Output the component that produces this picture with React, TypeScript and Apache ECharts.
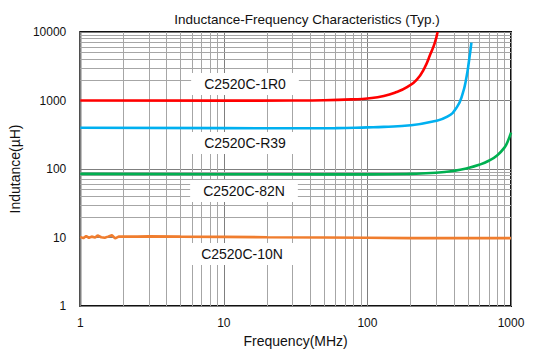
import React, { useEffect, useRef } from "react";
import * as echarts from "echarts";

// Frequency (MHz) / inductance readings per part
const freq1R0 = [1, 10, 30, 50, 80, 100, 130, 160, 190, 220, 250, 275, 295, 308];
const ind1R0 = [1000, 995, 1000, 1010, 1040, 1070, 1160, 1330, 1580, 2000, 3000, 4800, 7000, 10000];

const freqR39 = [1, 10, 30, 60, 100, 130, 200, 280, 360, 420, 460, 490, 510, 530];
const indR39 = [400, 395, 393, 395, 405, 412, 435, 490, 580, 800, 1250, 2200, 3800, 7000];

const freq82N = [1, 10, 50, 100, 200, 300, 400, 500, 600, 700, 800, 900, 950, 1000];
const ind82N = [85, 84, 83.5, 83.5, 85, 88, 94, 103, 115, 132, 158, 205, 255, 340];

const freq10N = [1, 1.05, 1.1, 1.15, 1.2, 1.27, 1.32, 1.4, 1.48, 1.56, 1.66, 1.75, 1.85, 2, 2.5, 3, 5, 10, 20, 50, 100, 200, 500, 1000];
const ind10N = [10.2, 9.8, 10.5, 9.9, 10.3, 10.0, 10.7, 10.1, 9.9, 10.3, 10.8, 9.7, 10.3, 10.3, 10.3, 10.4, 10.3, 10.2, 10.1, 10.0, 9.9, 9.8, 9.8, 9.8];

const seriesNames = ["C2520C-1R0", "C2520C-R39", "C2520C-82N", "C2520C-10N"];
const seriesColors = ["#ff0000", "#00b0f0", "#00b050", "#f07d2e"];

// grid lines
const minorX = [2, 3, 4, 5, 6, 7, 8, 9, 20, 30, 40, 50, 60, 70, 80, 90, 200, 300, 400, 500, 600, 700, 800, 900];
const minorY = [20, 30, 40, 50, 60, 70, 80, 90, 2000, 3000, 4000, 5000, 6000, 7000, 8000, 9000];

const FONT = 'Arial, "Liberation Sans", sans-serif';

function pairs(xs: number[], ys: number[]) {
  return xs.map((x, i) => [x, ys[i]]);
}

export default function App() {
  const ref = useRef<HTMLDivElement>(null);
  useEffect(() => {
    if (!ref.current) return;
    const chart = echarts.init(ref.current, undefined, { renderer: "svg" });
    const datasets = [pairs(freq1R0, ind1R0), pairs(freqR39, indR39), pairs(freq82N, ind82N), pairs(freq10N, ind10N)];
    const labelPos = [
      [245, 84],
      [245, 143],
      [244, 191],
      [242, 254],
    ];
    chart.setOption({
      animation: false,
      grid: {
        left: 74,
        right: 29,
        top: 32,
        bottom: 49,
        show: true,
        borderColor: "#111",
        borderWidth: 2,
        backgroundColor: "transparent",
      },
      xAxis: {
        type: "log",
        logBase: 10,
        min: 1,
        max: 1000,
        name: "Frequency(MHz)",
        nameLocation: "middle",
        nameGap: 26,
        nameTextStyle: { fontSize: 14, color: "#111", fontFamily: FONT },
        axisLine: { show: false },
        axisTick: { show: false },
        axisLabel: { fontSize: 12, color: "#111", fontFamily: FONT, margin: 11, formatter: (v: number) => String(v) },
        splitLine: { show: true, lineStyle: { color: "#7f7f7f", width: 1 } },
      },
      yAxis: {
        type: "log",
        logBase: 10,
        min: 1,
        max: 10000,
        name: "Indutance(µH)",
        nameLocation: "middle",
        nameGap: 36,
        nameTextStyle: { fontSize: 14, color: "#111", fontFamily: FONT },
        axisLine: { show: false },
        axisTick: { show: false },
        axisLabel: { fontSize: 12, color: "#111", fontFamily: FONT, margin: 14, formatter: (v: number) => String(v) },
        splitLine: { show: true, lineStyle: { color: "#7f7f7f", width: 1 } },
      },
      series: [
        {
          type: "line",
          name: "grid",
          data: [],
          silent: true,
          markLine: {
            silent: true,
            z: 1,
            symbol: "none",
            label: { show: false },
            lineStyle: { color: "#a6a6a6", width: 1, type: "solid" },
            emphasis: { disabled: true },
            data: [
              ...minorX.map((v) => ({ xAxis: v })),
              ...minorY.map((v) => ({ yAxis: v })),
            ],
          },
        },
        ...datasets.map((d, i) => ({
          type: "line",
          name: seriesNames[i],
          data: d,
          showSymbol: false,
          smooth: i === 3 ? false : 0.5,
          z: 3,
          lineStyle: { color: seriesColors[i], width: 2.6 },
          itemStyle: { color: seriesColors[i] },
        })),
      ],
      graphic: [
        {
          type: "text",
          x: 307,
          y: 19,
          z: 100,
          style: {
            text: "Inductance-Frequency Characteristics (Typ.)",
            fontSize: 13.5,
            fontFamily: FONT,
            fill: "#111",
            align: "center",
            verticalAlign: "middle",
          },
        },
        ...seriesNames.map((n, i) => ({
          type: "text",
          x: labelPos[i][0],
          y: labelPos[i][1],
          z: 100,
          style: {
            text: n,
            fontSize: 14,
            fontFamily: FONT,
            fill: "#111",
            align: "center",
            verticalAlign: "middle",
            backgroundColor: "#ffffff",
            padding: [4, 13],
          },
        })),
      ],
    });
    return () => chart.dispose();
  }, []);
  return (
    <div
      ref={ref}
      style={{ position: "fixed", left: 0, top: 0, width: 540, height: 355, background: "#fff" }}
    />
  );
}
